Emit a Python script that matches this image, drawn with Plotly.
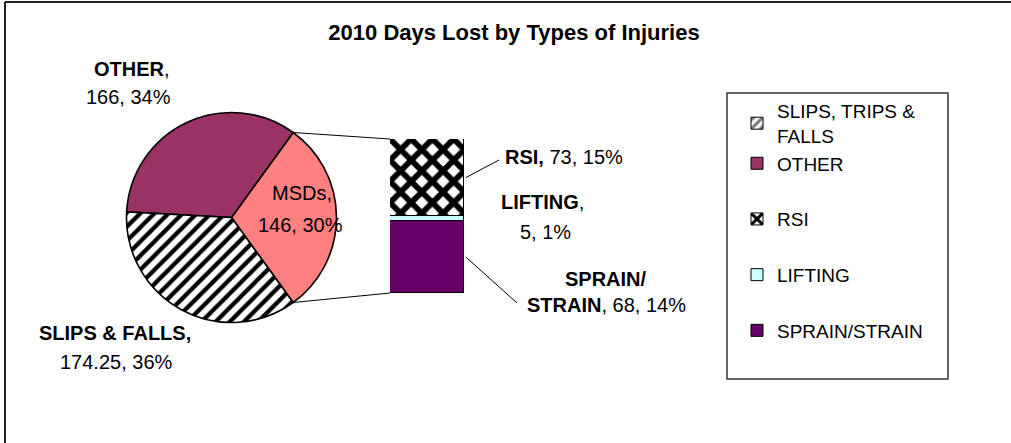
import math
import plotly.graph_objects as go

# ---------------- data ----------------
title_text = "2010 Days Lost by Types of Injuries"
pie_labels = ["MSDs", "OTHER", "SLIPS & FALLS"]
pie_values = [146, 166, 174.25]
pie_colors = ["#FF8080", "#993366", "#FFFFFF"]
pie_patterns = ["", "", "/"]

bar_labels = ["SPRAIN/STRAIN", "LIFTING", "RSI"]   # bottom -> top
bar_values = [68, 5, 73]
bar_colors = ["#660066", "#CCFFFF", "#FFFFFF"]
bar_patterns = ["", "", "x"]

legend_names = ["SLIPS, TRIPS &<br>FALLS", "OTHER", "RSI", "LIFTING", "SPRAIN/STRAIN"]

# ---------------- layout geometry (pixels) ----------------
W, H = 1011, 443
FONT = "Liberation Sans, Arial, sans-serif"
CX, CY, R = 231.5, 217.5, 105          # pie centre / radius
BX0, BX1, BYT, BYB = 390, 464, 139, 293  # bar box


def px(x):
    return x / W


def py(y):
    return 1 - y / H


total = sum(pie_values)
bar_total = sum(bar_values)
fig = go.Figure()

# pie ("MSDs" slice is split out into the bar); MSDs centred on the right
half = pie_values[0] / total * 180.0
fig.add_trace(go.Pie(
    labels=pie_labels, values=pie_values, sort=False,
    direction="counterclockwise", rotation=90 - half,
    textinfo="none", hoverinfo="label+value+percent", showlegend=False,
    marker=dict(colors=pie_colors, line=dict(color="black", width=1.6),
                pattern=dict(shape=pie_patterns, fgcolor="black", size=10, solidity=0.42)),
    domain=dict(x=[px(CX - R), px(CX + R)], y=[py(CY + R), py(CY - R)]),
))

ranks = {"SPRAIN/STRAIN": 5, "LIFTING": 4, "RSI": 3}
for lab, val, col, pat in zip(bar_labels, bar_values, bar_colors, bar_patterns):
    fig.add_trace(go.Bar(
        x=[0], y=[val], name=lab, width=1,
        legendgroup=lab, legendrank=ranks[lab],
        marker=dict(color=col, line=dict(color="black", width=1),
                    pattern=dict(shape=pat, fgcolor="black", fgopacity=1, size=15, solidity=0.62)),
    ))

# legend-only entries for the pie slices
fig.add_trace(go.Bar(x=[0], y=[None], name=legend_names[0], legendgroup="pie", legendrank=1,
                     marker=dict(color="white", line=dict(color="black", width=1),
                                 pattern=dict(shape="/", fgcolor="black", size=8, solidity=0.5))))
fig.add_trace(go.Bar(x=[0], y=[None], name=legend_names[1], legendgroup="pie", legendrank=2,
                     marker=dict(color="#993366", line=dict(color="black", width=1))))

# ---------------- labels ----------------
def pct(v):
    return f"{round(v / total * 100)}%"


def fmt(v):
    return f"{v:g}"


anns = []


def label(x, y, text, anchor="center", size=20):
    anns.append(dict(x=px(x), y=py(y), xref="paper", yref="paper", text=text, showarrow=False,
                     xanchor=anchor, yanchor="middle", font=dict(family=FONT, size=size, color="black")))


label(132, 69, f"<b>{pie_labels[1]}</b>,")
label(128, 97, f"{fmt(pie_values[1])}, {pct(pie_values[1])}")
label(302, 193, f"{pie_labels[0]},")
label(300, 225, f"{fmt(pie_values[0])}, {pct(pie_values[0])}")
label(115, 333, f"<b>{pie_labels[2]},</b>")
label(116, 362, f"{fmt(pie_values[2])}, {pct(pie_values[2])}")
label(503, 157, f"<b>{bar_labels[2]},</b> {fmt(bar_values[2])}, {pct(bar_values[2])}", anchor="left")
label(542, 202, f"<b>{bar_labels[1]}</b>,")
label(545, 232, f"{fmt(bar_values[1])}, {pct(bar_values[1])}")
label(606, 279, "<b>SPRAIN/</b>")
label(606, 305, f"<b>STRAIN</b>, {fmt(bar_values[0])}, {pct(bar_values[0])}")

# ---------------- connector / leader lines ----------------
a = math.radians(half)


def bar_y(v):
    return BYB - v / bar_total * (BYB - BYT)


shapes = []


def seg(x0, y0, x1, y1, color="black", width=1):
    shapes.append(dict(type="line", xref="paper", yref="paper", x0=px(x0), y0=py(y0),
                       x1=px(x1), y1=py(y1), line=dict(color=color, width=width)))


seg(CX + R * math.cos(a), CY - R * math.sin(a), BX0, bar_y(bar_total))
seg(CX + R * math.cos(a), CY + R * math.sin(a), BX0, bar_y(0))
seg(BX1 + 2, bar_y(bar_values[0] + bar_values[1] + bar_values[2] / 2), 499, 160)
seg(BX1 + 2, bar_y(bar_values[0] / 2), 517, 303)
# chart frame
seg(5, H, 5, 2, color="#222222", width=2)
seg(5, 2, W, 2, color="#222222", width=2)
# legend frame
shapes.append(dict(type="rect", xref="paper", yref="paper", x0=px(727), y0=py(379), x1=px(948), y1=py(93),
                   line=dict(color="#333333", width=1.5), fillcolor="rgba(0,0,0,0)"))

fig.update_layout(
    width=W, height=H, margin=dict(l=0, r=0, t=0, b=0),
    paper_bgcolor="white", plot_bgcolor="white",
    barmode="stack", bargap=0,
    title=dict(text=f"<b>{title_text}</b>", x=px(514), xanchor="center", y=py(32), yanchor="middle",
               yref="container", font=dict(family=FONT, size=22, color="black")),
    xaxis=dict(domain=[px(BX0), px(BX1)], range=[-0.5, 0.5], visible=False, fixedrange=True),
    yaxis=dict(domain=[py(BYB), py(BYT)], range=[0, bar_total], visible=False, fixedrange=True),
    legend=dict(x=px(737), xanchor="left", y=py(92), yanchor="top", traceorder="grouped",
                tracegroupgap=28, bgcolor="rgba(0,0,0,0)", borderwidth=0,
                font=dict(family=FONT, size=19, color="black")),
    annotations=anns, shapes=shapes,
)

fig.write_html("out.html", config={"displayModeBar": False},
               post_script="document.body.style.margin='0px';")
